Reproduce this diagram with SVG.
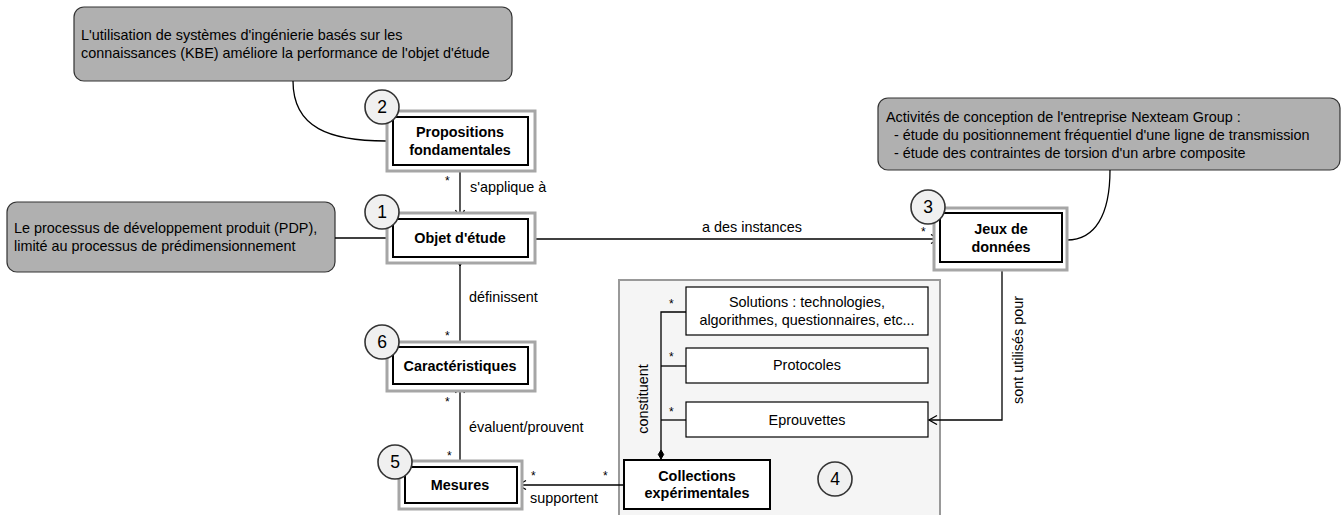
<svg xmlns="http://www.w3.org/2000/svg" width="1341" height="515" viewBox="0 0 1341 515">
<style>
text{font-family:"Liberation Sans",Arial,sans-serif;font-size:14.4px;fill:#000}
.b{font-weight:bold;text-anchor:middle}
.c{text-anchor:middle}
.st{font-size:12px}
.note{fill:#b0b0b0;stroke:#333;stroke-width:1.2}
.outer{fill:#fff;stroke:#a6a6a6;stroke-width:3}
.inner{fill:#fff;stroke:#000;stroke-width:2}
.box{fill:#fff;stroke:#000;stroke-width:1.2}
.num{fill:#f0f0f0;stroke:#333;stroke-width:1.6}
.ln{fill:none;stroke:#000;stroke-width:1.3}
.dg{font-size:17.5px;text-anchor:middle}
</style>
<defs>
<marker id="arr" markerUnits="userSpaceOnUse" markerWidth="12" markerHeight="12" refX="9" refY="5" orient="auto">
<path d="M1,0.5 L9,5 L1,9.5" fill="none" stroke="#000" stroke-width="1.3"/>
</marker>
<marker id="dia" markerUnits="userSpaceOnUse" markerWidth="12" markerHeight="12" refX="1" refY="4" orient="auto">
<path d="M1,4 L5.5,1.3 L10,4 L5.5,6.7 Z" fill="#000" stroke="#000"/>
</marker>
</defs>

<g id="container4">
<rect x="619" y="280" width="321" height="245" fill="#f5f5f5" stroke="#999" stroke-width="2"/>
</g>

<g id="note1">
<rect class="note" x="74" y="7" width="438" height="74" rx="10"/>
<text x="81" y="40">L'utilisation de systèmes d'ingénierie basés sur les</text>
<text x="81" y="58">connaissances (KBE) améliore la performance de l'objet d'étude</text>
</g>
<g id="note2">
<rect class="note" x="7" y="202" width="328" height="70" rx="10"/>
<text x="14" y="233">Le processus de développement produit (PDP),</text>
<text x="14" y="251">limité au processus de prédimensionnement</text>
</g>
<g id="note3">
<rect class="note" x="878" y="98" width="462" height="72" rx="10"/>
<text x="886" y="122">Activités de conception de l'entreprise Nexteam Group :</text>
<text x="894" y="140">- étude du positionnement fréquentiel d'une ligne de transmission</text>
<text x="894" y="158">- étude des contraintes de torsion d'un arbre composite</text>
</g>

<g id="connectors">
<path class="ln" d="M293,81 C293,128 330,141 386,141"/>
<path class="ln" d="M335,238 L386,238"/>
<path class="ln" d="M1110,170 C1110,215 1095,240 1067,240"/>
<path class="ln" d="M460,165 L460,218" marker-end="url(#arr)"/>
<path class="ln" d="M528,239 L939,239" marker-end="url(#arr)"/>
<path class="ln" d="M460,257 L460,347" marker-start="url(#dia)"/>
<path class="ln" d="M460,466 L460,385" marker-end="url(#arr)"/>
<path class="ln" d="M623,485 L518,485" marker-end="url(#arr)"/>
<path class="ln" d="M1002,263 L1002,420 L929,420" marker-end="url(#arr)"/>
<path class="ln" d="M661,459 L661,312 L686,312" marker-start="url(#dia)"/>
<path class="ln" d="M661,366 L686,366"/>
<path class="ln" d="M661,420 L686,420"/>
<text x="470" y="192">s'applique à</text>
<text x="752" y="232" class="c">a des instances</text>
<text x="469" y="302">définissent</text>
<text x="469" y="432">évaluent/prouvent</text>
<text x="530" y="503">supportent</text>
<text transform="translate(1023,350) rotate(-90)" class="c">sont utilisés pour</text>
<text transform="translate(648,399) rotate(-90)" class="c">constituent</text>
<text class="st" x="445" y="185">*</text>
<text class="st" x="921" y="236">*</text>
<text class="st" x="445" y="340">*</text>
<text class="st" x="445" y="406">*</text>
<text class="st" x="447" y="460">*</text>
<text class="st" x="531" y="480">*</text>
<text class="st" x="603" y="480">*</text>
<text class="st" x="669" y="308">*</text>
<text class="st" x="669" y="361">*</text>
<text class="st" x="669" y="416">*</text>
</g>

<g id="propositions">
<rect class="outer" x="387" y="111" width="148" height="60"/>
<rect class="inner" x="393" y="117" width="135" height="48"/>
<text class="b" x="460" y="137">Propositions</text>
<text class="b" x="460" y="155">fondamentales</text>
<circle class="num" cx="382" cy="107" r="17"/>
<text class="dg" x="382" y="113">2</text>
</g>
<g id="objet">
<rect class="outer" x="387" y="213" width="148" height="50"/>
<rect class="inner" x="393" y="219" width="135" height="38"/>
<text class="b" x="460" y="243">Objet d'étude</text>
<circle class="num" cx="382" cy="212" r="17"/>
<text class="dg" x="382" y="218">1</text>
</g>
<g id="jeux">
<rect class="outer" x="934" y="208" width="133" height="62"/>
<rect class="inner" x="940" y="213" width="122" height="49"/>
<text class="b" x="1001" y="234">Jeux de</text>
<text class="b" x="1001" y="252">données</text>
<circle class="num" cx="928" cy="207" r="17"/>
<text class="dg" x="928" y="213">3</text>
</g>
<g id="caracteristiques">
<rect class="outer" x="387" y="342" width="148" height="49"/>
<rect class="inner" x="393" y="347" width="135" height="37"/>
<text class="b" x="460" y="371">Caractéristiques</text>
<circle class="num" cx="382" cy="342" r="17"/>
<text class="dg" x="382" y="348">6</text>
</g>
<g id="mesures">
<rect class="outer" x="399" y="461" width="123" height="48"/>
<rect class="inner" x="405" y="467" width="112" height="36"/>
<text class="b" x="460" y="490">Mesures</text>
<circle class="num" cx="395" cy="462" r="17"/>
<text class="dg" x="395" y="468">5</text>
</g>
<g id="solutions">
<rect class="box" x="686" y="287" width="242" height="48"/>
<text class="c" x="807" y="307">Solutions : technologies,</text>
<text class="c" x="807" y="325">algorithmes, questionnaires, etc...</text>
</g>
<g id="protocoles">
<rect class="box" x="686" y="348" width="242" height="35"/>
<text class="c" x="807" y="370">Protocoles</text>
</g>
<g id="eprouvettes">
<rect class="box" x="686" y="402" width="242" height="35"/>
<text class="c" x="807" y="425">Eprouvettes</text>
</g>
<g id="collections">
<rect class="inner" x="624" y="460" width="146" height="49"/>
<text class="b" x="697" y="481">Collections</text>
<text class="b" x="697" y="498">expérimentales</text>
</g>
<g id="num4">
<circle class="num" cx="835" cy="479" r="17"/>
<text class="dg" x="835" y="485">4</text>
</g>
</svg>
